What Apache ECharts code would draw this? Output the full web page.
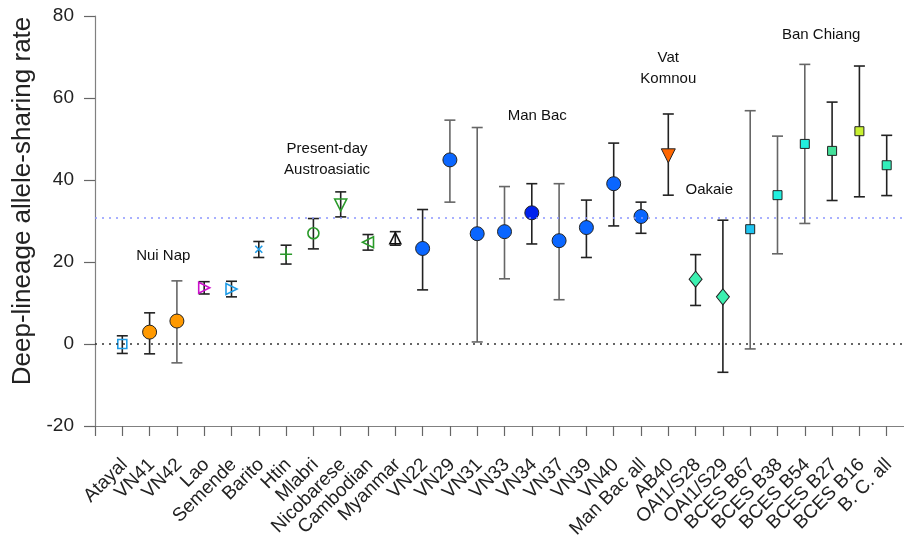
<!DOCTYPE html>
<html>
<head>
<meta charset="utf-8">
<script src="https://cdn.jsdelivr.net/npm/echarts@6/dist/echarts.min.js"></script>
<style>
  html, body { margin: 0; padding: 0; background: #fff; }
  #chart { width: 904px; height: 536px; }
</style>
</head>
<body>
<div id="chart"></div>
<script>
// samples, left to right
const categories = ["Atayal", "VN41", "VN42", "Lao", "Semende", "Barito", "Htin", "Mlabri",
  "Nicobarese", "Cambodian", "Myanmar", "VN22", "VN29", "VN31", "VN33", "VN34", "VN37",
  "VN39", "VN40", "Man Bac all", "AB40", "OAI1/S28", "OAI1/S29", "BCES B67", "BCES B38",
  "BCES B54", "BCES B27", "BCES B16", "B. C. all"];
const rate  = [0.0, 2.9, 5.6, 13.7, 13.4, 23.1, 21.9, 27.0, 33.9, 24.8, 25.8, 23.3, 44.9, 26.9,
  27.4, 32.0, 25.2, 28.4, 39.1, 31.1, 45.9, 15.8, 11.5, 28.0, 36.3, 48.8, 47.1, 51.9, 43.6];
const lower = [-2.3, -2.4, -4.6, 12.2, 11.5, 21.1, 19.5, 23.2, 31.0, 22.9, 24.1, 13.2, 34.6, 0.5,
  15.9, 24.4, 10.8, 21.1, 28.8, 27.0, 36.3, 9.4, -6.9, -1.2, 22.0, 29.4, 35.0, 35.9, 36.2];
const upper = [2.0, 7.6, 15.4, 15.2, 15.3, 25.0, 24.1, 30.6, 37.1, 26.7, 27.4, 32.8, 54.6, 52.8,
  38.4, 39.1, 39.1, 35.1, 49.0, 34.6, 56.1, 21.8, 30.2, 56.9, 50.7, 68.2, 59.0, 67.8, 50.9];

const yTicks = [-20, 0, 20, 40, 60, 80];
const zeroLine = 0;
const manBacLine = 30.8;

// group labels (x in sample index units, y in rate units)
const groupNames = ["Nui Nap", "Present-day\nAustroasiatic", "Man Bac", "Vat\nKomnou", "Oakaie", "Ban Chiang"];
const groupX = [2.5, 8.5, 16.2, 21.0, 22.5, 26.6];
const groupY = [21.6, 45.0, 55.6, 67.3, 37.7, 75.5];

// marker look per sample
const GREEN = "#2a9a2a", SKY = "#1e9be6", BLUE = "#0a66ff";
function hollow(symbol, color, size, rotate) {
  return { symbol, size, rotate: rotate || 0, fill: "rgba(0,0,0,0)", border: color, bw: 1.6 };
}
function filled(symbol, color, size, rotate) {
  return { symbol, size, rotate: rotate || 0, fill: color, border: "#222", bw: 1 };
}
const CROSS = "path://M0,0L10,10M10,0L0,10";
const PLUS = "path://M5,0L5,10M0,5L10,5";
const markerStyle = {
  "Atayal": hollow("rect", SKY, 9),
  "VN41": filled("circle", "#ff9900", 14),
  "VN42": filled("circle", "#ff9900", 14),
  "Lao": hollow("triangle", "#cc11cc", 11, -90),
  "Semende": hollow("triangle", SKY, 11, -90),
  "Barito": hollow(CROSS, SKY, 7),
  "Htin": hollow(PLUS, GREEN, 12),
  "Mlabri": hollow("circle", GREEN, 11),
  "Nicobarese": hollow("triangle", GREEN, 12, 180),
  "Cambodian": hollow("triangle", GREEN, 11, 90),
  "Myanmar": hollow("triangle", "#111", 11),
  "VN34": filled("circle", "#0022ee", 14),
  "AB40": filled("triangle", "#ff6600", 14, 180),
  "OAI1/S28": filled("diamond", "#3cf0b0", [13, 16]),
  "OAI1/S29": filled("diamond", "#3cf0b0", [13, 16]),
  "BCES B67": filled("rect", "#1ec4f0", 9),
  "BCES B38": filled("rect", "#22f0e0", 9),
  "BCES B54": filled("rect", "#22eedd", 9),
  "BCES B27": filled("rect", "#44e09a", 9),
  "BCES B16": filled("rect", "#c8f030", 9),
  "B. C. all": filled("rect", "#33eebb", 9)
};
const defaultMarker = filled("circle", BLUE, 14);
const grayBars = ["VN42", "VN29", "VN31", "VN33", "VN37", "BCES B67", "BCES B38", "BCES B54"];

const pointData = categories.map((name, i) => {
  const m = markerStyle[name] || defaultMarker;
  return {
    value: [i + 1, rate[i]],
    symbol: m.symbol,
    symbolSize: m.size,
    symbolRotate: m.rotate,
    itemStyle: { color: m.fill, borderColor: m.border, borderWidth: m.bw, opacity: 1 }
  };
});

const errData = categories.map((name, i) => ({
  value: [i + 1, lower[i], upper[i]],
  itemStyle: { color: grayBars.includes(name) ? "#666" : "#222" }
}));

const groupData = groupNames.map((t, i) => ({ value: [groupX[i], groupY[i]], name: t }));

function renderErr(params, api) {
  const x = api.value(0);
  const lo = api.coord([x, api.value(1)]);
  const hi = api.coord([x, api.value(2)]);
  const w = 5.5;
  const style = { stroke: api.visual("color"), lineWidth: 1.6, fill: null };
  return {
    type: "group",
    children: [
      { type: "line", shape: { x1: lo[0], y1: lo[1], x2: hi[0], y2: hi[1] }, style },
      { type: "line", shape: { x1: lo[0] - w, y1: lo[1], x2: lo[0] + w, y2: lo[1] }, style },
      { type: "line", shape: { x1: hi[0] - w, y1: hi[1], x2: hi[0] + w, y2: hi[1] }, style }
    ]
  };
}

const chart = echarts.init(document.getElementById("chart"), null, { renderer: "canvas" });
const FONT = "Liberation Sans, Arial, Helvetica, sans-serif";

const option = {
  animation: false,
  textStyle: { fontFamily: FONT },
  grid: { left: 95, right: -10, top: 16, bottom: 110, outerBoundsMode: "none", containLabel: false },
  xAxis: {
    type: "value",
    min: 0,
    max: 30,
    interval: 1,
    splitLine: { show: false },
    axisLine: { onZero: false, lineStyle: { color: "#808080", width: 1.2 } },
    axisTick: { length: 10, lineStyle: { color: "#666", width: 1.2 } },
    axisLabel: {
      rotate: 45,
      margin: 38,
      padding: [0, -3, 0, 0],
      fontSize: 19,
      color: "#222",
      fontFamily: FONT,
      formatter: v => (Number.isInteger(v) && v >= 1 && v <= categories.length) ? categories[v - 1] : ""
    }
  },
  yAxis: {
    type: "value",
    min: yTicks[0],
    max: yTicks[yTicks.length - 1],
    interval: 20,
    name: "Deep-lineage allele-sharing rate",
    nameLocation: "middle",
    nameGap: 58,
    nameTextStyle: { fontSize: 26, color: "#222", fontFamily: FONT, padding: [0, 0, 0, 40] },
    splitLine: { show: false },
    axisLine: { show: true, onZero: false, lineStyle: { color: "#808080", width: 1.2 } },
    axisTick: { show: true, length: 11, lineStyle: { color: "#666", width: 1.2 } },
    axisLabel: { fontSize: 19, color: "#222", margin: 21, fontFamily: FONT }
  },
  series: [
    {
      type: "custom",
      renderItem: renderErr,
      encode: { x: 0, y: [1, 2] },
      data: errData,
      z: 2,
      markLine: {
        silent: true,
        symbol: "none",
        label: { show: false },
        data: [
          { yAxis: zeroLine, lineStyle: { color: "#333", type: [2, 5], width: 1.5 } },
          { yAxis: manBacLine, lineStyle: { color: "#8c96ff", type: [2, 5], width: 1.5 } }
        ]
      }
    },
    {
      type: "scatter",
      data: pointData,
      itemStyle: { opacity: 1 },
      z: 4
    },
    {
      type: "scatter",
      data: groupData,
      symbolSize: 0,
      silent: true,
      itemStyle: { opacity: 1 },
      z: 5,
      label: {
        show: true,
        position: "inside",
        formatter: p => p.name,
        fontSize: 15,
        lineHeight: 21,
        color: "#111",
        opacity: 1,
        fontFamily: FONT,
        align: "center"
      }
    }
  ]
};

chart.setOption(option);
</script>
</body>
</html>
